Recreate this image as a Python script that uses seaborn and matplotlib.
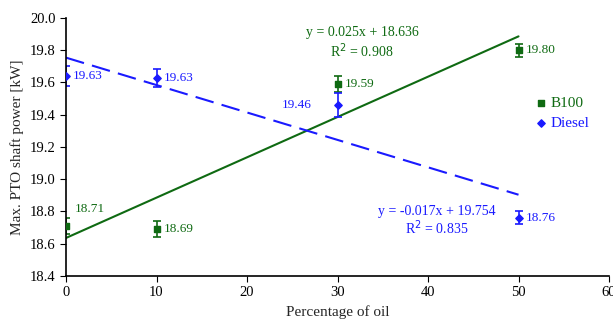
import numpy as np
import pandas as pd
import seaborn as sns
import matplotlib.pyplot as plt

oil = [0, 10, 30, 50]
b100 = [18.71, 18.69, 19.59, 19.80]
b100_err = [0.05, 0.05, 0.05, 0.04]
diesel = [19.64, 19.63, 19.46, 18.76]
diesel_err = [0.06, 0.055, 0.075, 0.04]
diesel_labels = ['19.63', '19.63', '19.46', '18.76']
b100_labels = ['18.71', '18.69', '19.59', '19.80']
b100_fit = (0.025, 18.636, 0.908)
diesel_fit = (-0.017, 19.754, 0.835)

GREEN = '#0f6a12'
BLUE = '#1a1aff'

sns.set_style('ticks')
plt.rcParams['font.family'] = ['Liberation Serif', 'DejaVu Serif']

fig = plt.figure(figsize=(6.13, 3.2), dpi=100)
ax = fig.add_axes([0.1077, 0.1375, 0.8858, 0.8063])

xs = np.array([0, 50])
fit = pd.DataFrame({
    'x': np.concatenate([xs, xs]),
    'y': np.concatenate([b100_fit[0] * xs + b100_fit[1], diesel_fit[0] * xs + diesel_fit[1]]),
    'fuel': ['B100', 'B100', 'Diesel', 'Diesel'],
})
sns.lineplot(data=fit[fit.fuel == 'B100'], x='x', y='y', color=GREEN, lw=1.5, ax=ax, legend=False)
sns.lineplot(data=fit[fit.fuel == 'Diesel'], x='x', y='y', color=BLUE, lw=1.5, ax=ax,
             legend=False, dashes=False, linestyle=(0, (9, 4)))

ax.errorbar(oil, b100, yerr=b100_err, fmt='none', ecolor=GREEN, capsize=3, elinewidth=1.2, capthick=1.2)
ax.errorbar(oil, diesel, yerr=diesel_err, fmt='none', ecolor=BLUE, capsize=3, elinewidth=1.2, capthick=1.2)
ax.scatter(oil, b100, marker='s', s=22, color=GREEN, zorder=3, label='B100')
ax.scatter(oil, diesel, marker='D', s=14, color=BLUE, zorder=3, label='Diesel')

# value labels
offs_b = [(6, 12), (5, 0), (5, 0), (5, 0)]
offs_d = [(5, 0), (5, 0), (-40, 0), (5, 0)]
for x, y, t, o in zip(oil, b100, b100_labels, offs_b):
    ax.annotate(t, (x, y), xytext=o, textcoords='offset points', color=GREEN,
                fontsize=9.5, va='center', ha='left')
for x, y, t, o in zip(oil, diesel, diesel_labels, offs_d):
    ax.annotate(t, (x, y), xytext=o, textcoords='offset points', color=BLUE,
                fontsize=9.5, va='center', ha='left')

ax.text(32.7, 19.907, f'y = {b100_fit[0]}x + {b100_fit[1]}', color=GREEN, fontsize=10, ha='center', va='center')
ax.text(32.7, 19.80, f'R$^2$ = {b100_fit[2]}', color=GREEN, fontsize=10, ha='center', va='center')
ax.text(41.0, 18.797, f'y = {diesel_fit[0]}x + {diesel_fit[1]}', color=BLUE, fontsize=10, ha='center', va='center')
ax.text(41.0, 18.70, f'R$^2$ = {diesel_fit[2]}', color=BLUE, fontsize=10, ha='center', va='center')

ax.set_xlim(0, 60)
ax.set_ylim(18.4, 20.0)
ax.set_xticks(range(0, 61, 10))
ax.set_yticks(np.arange(18.4, 20.01, 0.2))
ax.yaxis.set_major_formatter(plt.FormatStrFormatter('%.1f'))
ax.tick_params(labelsize=10.5, length=4, direction='out', colors='black')
ax.set_xlabel('Percentage of oil', fontsize=11)
ax.set_ylabel('Max. PTO shaft power [kW]', fontsize=11)
sns.despine(ax=ax)
for s in ['left', 'bottom']:
    ax.spines[s].set_color('black')
    ax.spines[s].set_linewidth(1.2)

leg = ax.legend(loc='upper left', bbox_to_anchor=(0.85, 0.72), frameon=False, fontsize=11,
                handletextpad=0.1, labelspacing=0.4, handlelength=1, borderaxespad=0)
for txt, c in zip(leg.get_texts(), [GREEN, BLUE]):
    txt.set_color(c)

fig.savefig('out.png', dpi=100)
